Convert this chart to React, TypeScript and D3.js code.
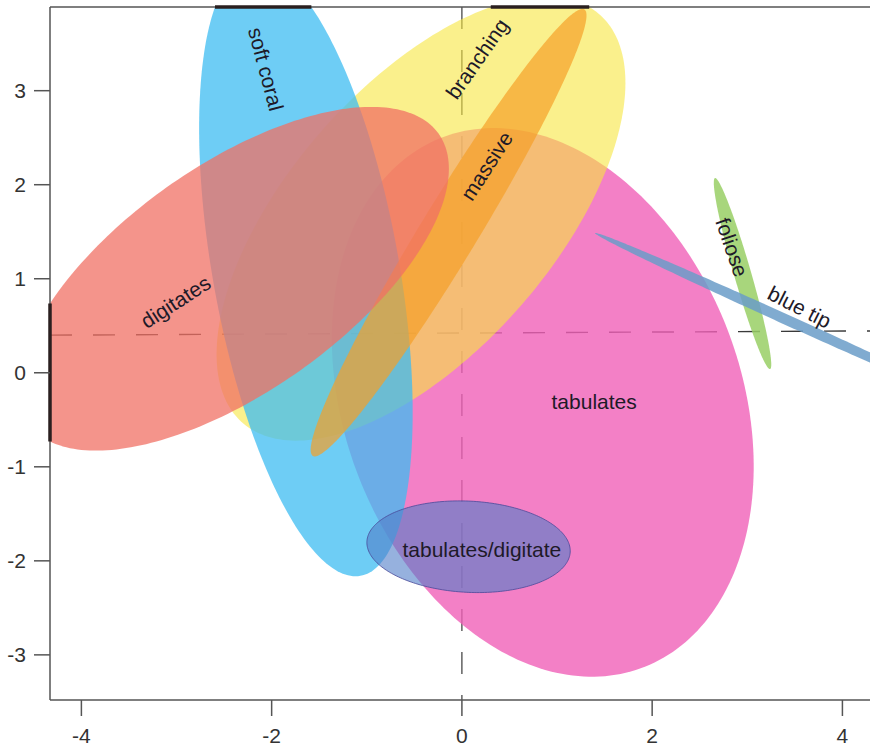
import React from "react";
import * as d3 from "d3";

// ---- data (PCA-style ellipses per growth form) ----
const groups = ["tabulates", "branching", "soft coral", "massive", "digitates", "tabulates/digitate", "foliose", "blue tip"];
const centerX = [0.85, -0.43, -1.64, -0.14, -2.4, 0.07, 2.95, 3.4];
const centerY = [-0.315, 1.64, 1.09, 1.49, 1.0, -1.85, 1.055, 0.57];
const semiMajor = [3.01, 2.87, 3.3, 2.77, 2.65, 1.07, 1.056, 2.2];
const semiMinor = [2.09, 1.4, 0.98, 0.3, 1.2, 0.485, 0.09, 0.055];
const angleDeg = [-70, 49.4, 100, 59, 35.7, -3, 105.9, -24.6];
const labelX = [1.39, 0.16, -2.06, 0.26, -3.01, 0.21, 2.84, 3.55];
const labelY = [-0.31, 3.34, 3.23, 2.2, 0.755, -1.88, 1.335, 0.7];
const labelAngle = [0, -55, 75, -57, -33, 0, 71, 27];

const xTicks = [-4, -2, 0, 2, 4];
const yTicks = [-3, -2, -1, 0, 1, 2, 3];
const xDomain = [-4.33, 4.29];
const yDomain = [-3.48, 3.89];
const hRefY = [0.4, 0.445];
const vRefX = 0;

// ---- styles ----
const fills = ["#F060B8", "#F7E63F", "#3EBCF2", "#F5A028", "#F07064", "#507DC8", "#99CF65", "#6A9CC8"];
const opacities = [0.8, 0.6, 0.75, 0.7, 0.75, 0.6, 0.85, 0.85];
const strokes = ["none", "none", "none", "none", "none", "#4A4A9A", "none", "none"];
const FONT = "'Liberation Sans', Arial, Helvetica, sans-serif";

const W = 870;
const H = 748;
const M = { left: 50, right: 870, top: 7, bottom: 700 };

function ellipsePoints(i: number): [number, number][] {
  const th = (angleDeg[i] * Math.PI) / 180;
  const c = Math.cos(th), s = Math.sin(th);
  const pts: [number, number][] = [];
  const n = 240;
  for (let k = 0; k < n; k++) {
    const t = (2 * Math.PI * k) / n;
    const u = semiMajor[i] * Math.cos(t);
    const v = semiMinor[i] * Math.sin(t);
    pts.push([centerX[i] + u * c - v * s, centerY[i] + u * s + v * c]);
  }
  return pts;
}

// intersection of ellipse i with a horizontal (fixed y) or vertical (fixed x) line
function chord(i: number, fixed: number, horizontal: boolean): [number, number] | null {
  const th = (angleDeg[i] * Math.PI) / 180;
  const c = Math.cos(th), s = Math.sin(th);
  const a2 = semiMajor[i] ** 2, b2 = semiMinor[i] ** 2;
  const d = horizontal ? fixed - centerY[i] : fixed - centerX[i];
  const A = horizontal ? c * c / a2 + s * s / b2 : s * s / a2 + c * c / b2;
  const B = 2 * c * s * d * (1 / a2 - 1 / b2);
  const C = horizontal ? d * d * (s * s / a2 + c * c / b2) - 1 : d * d * (c * c / a2 + s * s / b2) - 1;
  const disc = B * B - 4 * A * C;
  if (disc <= 0) return null;
  const r1 = (-B - Math.sqrt(disc)) / (2 * A);
  const r2 = (-B + Math.sqrt(disc)) / (2 * A);
  const base = horizontal ? centerX[i] : centerY[i];
  return [base + r1, base + r2];
}

export default function App() {
  const x = d3.scaleLinear().domain(xDomain).range([M.left, M.right]);
  const y = d3.scaleLinear().domain(yDomain).range([M.bottom, M.top]);
  const line = d3
    .line<[number, number]>()
    .x((d) => x(d[0]))
    .y((d) => y(d[1]))
    .curve(d3.curveLinearClosed);

  const clipSegs: { x1: number; y1: number; x2: number; y2: number }[] = [];
  groups.forEach((_, i) => {
    const top = chord(i, yDomain[1], true);
    if (top) {
      const lo = Math.max(top[0], xDomain[0]);
      const hi = Math.min(top[1], xDomain[1]);
      if (hi > lo) clipSegs.push({ x1: x(lo), y1: y(yDomain[1]), x2: x(hi), y2: y(yDomain[1]) });
    }
    const left = chord(i, xDomain[0], false);
    if (left) {
      const lo = Math.max(left[0], yDomain[0]);
      const hi = Math.min(left[1], yDomain[1]);
      if (hi > lo) clipSegs.push({ x1: x(xDomain[0]), y1: y(lo), x2: x(xDomain[0]), y2: y(hi) });
    }
  });

  return (
    <svg
      width={W}
      height={H}
      style={{ position: "absolute", left: 0, top: 0, background: "#fff" }}
      fontFamily={FONT}
    >
      <defs>
        <clipPath id="plotClip">
          <rect x={M.left} y={M.top} width={M.right - M.left + 20} height={M.bottom - M.top} />
        </clipPath>
      </defs>
      <rect x={0} y={0} width={W} height={H} fill="#fff" />

      <g clipPath="url(#plotClip)">
        {/* reference lines */}
        <line
          x1={x(xDomain[0])}
          x2={x(xDomain[1])}
          y1={y(hRefY[0])}
          y2={y(hRefY[1])}
          stroke="#3a3a3a"
          strokeWidth={1.4}
          strokeDasharray="22 21"
        />
        <line
          x1={x(vRefX)}
          x2={x(vRefX)}
          y1={y(yDomain[1])}
          y2={y(yDomain[0])}
          stroke="#3a3a3a"
          strokeWidth={1.2}
          strokeDasharray="22 21"
        />
        {groups.map((g, i) => (
          <path
            key={g}
            d={line(ellipsePoints(i)) || ""}
            fill={fills[i]}
            fillOpacity={opacities[i]}
            stroke={strokes[i]}
            strokeWidth={1}
            strokeOpacity={0.8}
          />
        ))}
      </g>

      {/* frame */}
      <g stroke="#555" strokeWidth={1.5} fill="none">
        <line x1={M.left} x2={W} y1={M.top} y2={M.top} />
        <line x1={M.left} x2={W} y1={M.bottom} y2={M.bottom} />
        <line x1={M.left} x2={M.left} y1={M.top} y2={M.bottom} />
      </g>
      {clipSegs.map((s, k) => (
        <line key={k} x1={s.x1} y1={s.y1} x2={s.x2} y2={s.y2} stroke="#2a1f1f" strokeWidth={3.5} />
      ))}

      {/* ticks */}
      {xTicks.map((t) => (
        <g key={"x" + t}>
          <line x1={x(t)} x2={x(t)} y1={M.bottom} y2={M.bottom + 16} stroke="#555" strokeWidth={1.5} />
          <text x={x(t)} y={735} textAnchor="middle" dominantBaseline="central" fontSize={21} fill="#333">
            {t}
          </text>
        </g>
      ))}
      {yTicks.map((t) => (
        <g key={"y" + t}>
          <line x1={M.left - 16} x2={M.left} y1={y(t)} y2={y(t)} stroke="#555" strokeWidth={1.5} />
          <text x={26} y={y(t)} textAnchor="end" dominantBaseline="central" fontSize={21} fill="#333">
            {t}
          </text>
        </g>
      ))}

      {/* group labels */}
      {groups.map((g, i) => (
        <text
          key={"l" + g}
          transform={`translate(${x(labelX[i])},${y(labelY[i])}) rotate(${labelAngle[i]})`}
          textAnchor="middle"
          dominantBaseline="central"
          fontSize={21}
          fill="#1e1a28"
        >
          {g}
        </text>
      ))}
    </svg>
  );
}
